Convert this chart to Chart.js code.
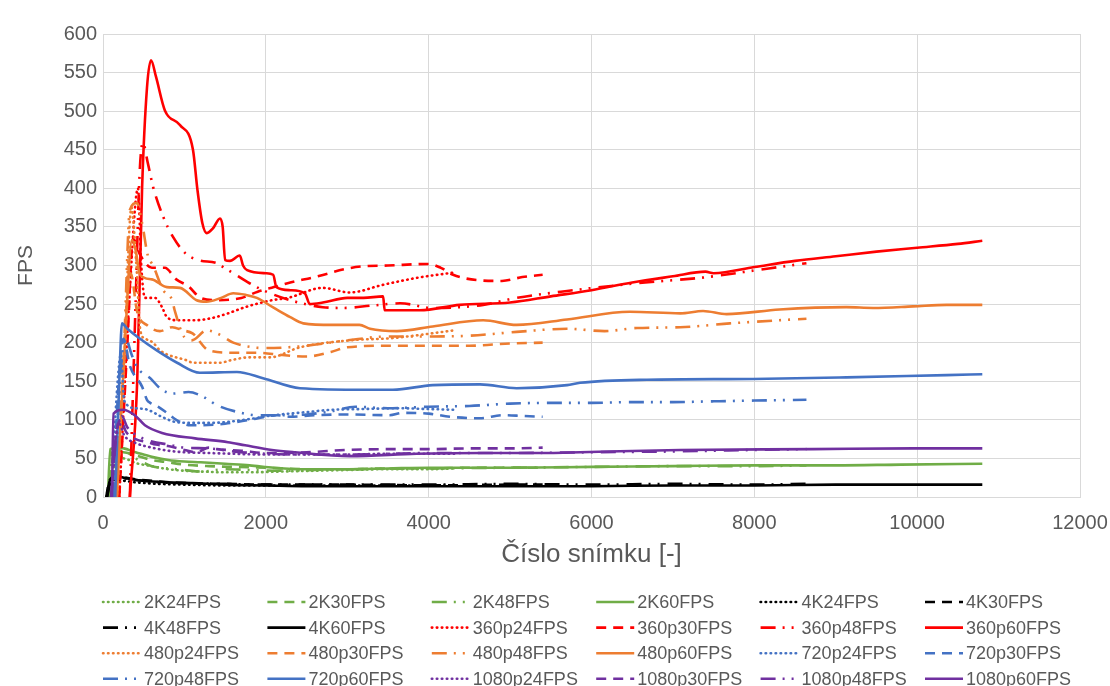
<!DOCTYPE html>
<html>
<head>
<meta charset="utf-8">
<script src="https://cdn.jsdelivr.net/npm/chart.js@4.4.1/dist/chart.umd.min.js"></script>
<style>
  body { margin: 0; background: #fff; }
  #wrap { width: 1110px; height: 686px; }
</style>
</head>
<body>
<div id="wrap"><canvas id="fpsChart" width="1110" height="686"></canvas></div>
<script>
// [frame, fps] pairs
const s2K24 = [[80,0],[150,45],[250,50],[400,44],[600,40],[800,36],[1000,34],[1200,33],[1500,32],[1800,32],[2200,33],[2600,34],[3000,35],[3500,36],[4000,36],[4320,37]];
const s2K30 = [[70,0],[130,55],[250,58],[400,54],[600,48],[800,45],[1000,42],[1300,40],[1600,39],[2000,38],[2500,36],[3000,36],[3500,37],[4000,37],[4500,38],[5000,38],[5400,38]];
const s2K48 = [[70,0],[120,60],[250,60],[400,50],[600,40],[800,37],[1000,35],[1200,33],[1500,36],[1800,35],[2200,34],[2600,35],[3000,36],[4000,37],[5000,38],[6000,39],[7000,40],[8000,40],[8640,41]];
const s2K60 = [[60,0],[90,62],[200,64],[400,58],[600,52],[800,48],[1000,46],[1200,45],[1500,43],[1800,41],[2100,38],[2500,36],[3000,36],[3500,37],[4000,38],[5000,38],[6000,39],[7000,40],[8000,41],[9000,41],[9800,42],[10800,43]];

const s4K24 = [[40,0],[70,15],[150,22],[400,19],[700,17],[1000,16],[1500,15],[2000,15],[3000,15],[4000,15],[4320,15]];
const s4K30 = [[40,0],[80,22],[180,26],[400,23],[700,20],[1000,18],[1500,17],[2000,16],[3000,16],[4000,15],[5000,16],[5400,16]];
const s4K48 = [[50,0],[90,18],[200,25],[400,22],[700,19],[1000,18],[1500,17],[2000,16],[3000,16],[4000,16],[5000,17],[6000,16],[7000,17],[8000,16],[8640,17]];
const s4K60 = [[50,0],[80,20],[150,27],[300,24],[500,21],[800,19],[1100,18],[1500,16],[2000,15],[2500,14],[3000,14],[4000,14],[5000,14],[6000,14],[7000,15],[8000,15],[9000,16],[10000,16],[10800,16]];

const s360p24 = [[200,0],[320,250],[430,400],[470,300],[516,258],[640,258],[725,246],[786,233],[920,229],[1130,229],[1340,232],[1535,238],[1745,246],[2075,255],[2270,258],[2700,271],[3030,265],[3440,275],[3855,284],[4320,291]];
const s360p30 = [[200,0],[300,200],[370,335],[450,315],[600,297],[760,297],[900,282],[1050,273],[1200,258],[1400,255],[1700,258],[1900,266],[2100,272],[2300,278],[2600,285],[3000,296],[3200,299],[3500,300],[4000,302],[4150,297],[4300,288],[4600,281],[4900,280],[5150,285],[5400,288]];
const s360p48 = [[330,0],[400,250],[450,420],[490,459],[550,433],[615,402],[740,363],[860,337],[1010,316],[1170,307],[1400,303],[1475,298],[1600,290],[1800,277],[1965,268],[2300,255],[2700,246],[2950,245],[3300,248],[3650,251],[4050,245],[4670,249],[5080,258],[5700,267],[6560,277],[7420,285],[8030,294],[8640,303]];
const s360p60 = [[330,0],[420,150],[480,400],[540,530],[590,566],[650,545],[760,501],[945,482],[1105,450],[1160,398],[1220,355],[1275,342],[1350,348],[1437,361],[1470,350],[1500,307],[1560,306],[1680,313],[1720,300],[1770,294],[2000,290],[2090,288],[2130,272],[2300,268],[2480,264],[2540,250],[2700,252],[3000,258],[3200,258],[3440,260],[3460,242],[3890,242],[4380,249],[5000,252],[5500,260],[6000,268],[6500,278],[7000,286],[7400,292],[7500,290],[8000,298],[8500,306],[9000,312],[9500,318],[10000,323],[10500,328],[10800,332]];

const s480p24 = [[150,0],[250,150],[350,375],[410,300],[460,215],[520,205],[615,200],[700,190],[1030,177],[1105,174],[1440,174],[1560,177],[1800,181],[2050,181],[2420,194],[3030,203],[3560,206],[4320,216]];
const s480p30 = [[170,0],[280,230],[340,290],[420,240],[550,222],[700,215],[850,220],[980,216],[1100,212],[1300,190],[1600,187],[1900,187],[2200,184],[2500,182],[2800,188],[3000,194],[3500,196],[4000,196],[4500,196],[5000,199],[5400,200]];
const s480p48 = [[160,0],[260,200],[330,372],[415,381],[480,355],[550,313],[615,300],[740,268],[850,255],[880,242],[1000,207],[1090,203],[1275,216],[1440,210],[1600,200],[1840,194],[2010,193],[2400,195],[3000,203],[3500,208],[4000,208],[4500,209],[5080,214],[5700,218],[6160,215],[6560,219],[7090,220],[7700,225],[8300,229],[8640,231]];
const s480p60 = [[170,0],[280,220],[355,333],[400,320],[455,288],[600,282],[785,272],[945,271],[1150,255],[1270,253],[1450,258],[1600,264],[1750,262],[1890,258],[2100,245],[2300,233],[2460,225],[2820,223],[3150,223],[3280,218],[3610,215],[4050,221],[4670,229],[5080,223],[5700,230],[6470,240],[7090,238],[7370,241],[7660,237],[8310,243],[9130,246],[9460,245],[9950,247],[10360,249],[10800,249]];

const s720p24 = [[100,0],[180,150],[220,185],[260,125],[400,115],[550,113],[700,105],[900,97],[1100,96],[1300,96],[1500,97],[1800,101],[2100,106],[2500,110],[2800,113],[3200,114],[3600,115],[4000,114],[4320,113]];
const s720p30 = [[120,0],[200,160],[250,205],[330,170],[480,143],[540,126],[580,122],[675,117],[785,109],[900,100],[1070,93],[1215,93],[1500,95],[1800,100],[2140,106],[2300,104],[2600,106],[3000,107],[3520,106],[3680,109],[4000,108],[4260,104],[4630,102],[4910,106],[5160,105],[5400,104]];
const s720p48 = [[130,0],[220,170],[280,205],[350,185],[420,168],[580,154],[700,141],[850,134],[1050,136],[1230,130],[1400,119],[1700,109],[1900,106],[2200,106],[2500,107],[2800,111],[3100,117],[3500,115],[4000,117],[4500,118],[5000,121],[5500,122],[6000,122],[6500,123],[7000,123],[7500,124],[8000,125],[8640,126]];
const s720p60 = [[150,0],[200,150],[233,225],[300,218],[430,207],[660,190],[910,174],[1190,161],[1645,162],[1965,154],[2420,141],[3240,139],[3560,139],[4050,145],[4630,146],[5080,141],[5700,145],[5860,148],[6680,152],[7980,153],[9130,155],[10360,158],[10800,159]];

const s1080p24 = [[100,0],[150,70],[200,95],[260,80],[400,70],[600,64],[800,60],[1000,58],[1300,57],[1600,56],[2000,55],[2500,55],[3000,55],[3500,56],[4000,56],[4320,56]];
const s1080p30 = [[100,0],[160,80],[220,100],[280,85],[400,75],[550,71],[650,68],[800,66],[1000,61],[1150,58],[1300,64],[1400,62],[1700,60],[2000,57],[2500,58],[3000,61],[3500,62],[4000,62],[4500,63],[5000,63],[5400,64]];
const s1080p48 = [[100,0],[170,85],[230,105],[300,90],[450,78],[600,72],[800,68],[1000,64],[1300,63],[1600,59],[2000,56],[2500,55],[3000,55],[3500,56],[4000,57],[5000,57],[6000,58],[7000,59],[8000,61],[8640,62]];
const s1080p60 = [[110,0],[130,108],[245,113],[390,106],[515,93],[725,83],[1130,76],[1535,71],[1745,67],[2075,61],[2360,58],[3030,53],[3850,56],[4670,57],[5490,57],[5860,58],[7090,61],[8720,62],[9950,63],[10800,63]];

const seriesNames = ['2K24FPS','2K30FPS','2K48FPS','2K60FPS','4K24FPS','4K30FPS','4K48FPS','4K60FPS',
  '360p24FPS','360p30FPS','360p48FPS','360p60FPS','480p24FPS','480p30FPS','480p48FPS','480p60FPS',
  '720p24FPS','720p30FPS','720p48FPS','720p60FPS','1080p24FPS','1080p30FPS','1080p48FPS','1080p60FPS'];
const seriesData = [s2K24, s2K30, s2K48, s2K60, s4K24, s4K30, s4K48, s4K60,
  s360p24, s360p30, s360p48, s360p60, s480p24, s480p30, s480p48, s480p60,
  s720p24, s720p30, s720p48, s720p60, s1080p24, s1080p30, s1080p48, s1080p60];

const resColors = ['#70ad47', '#000000', '#ff0000', '#ed7d31', '#4472c4', '#7030a0'];
const fpsDash = [[0.5, 4.5], [10, 7], [15, 7, 2, 7, 2, 8], []];
const fpsCap = ['round', 'butt', 'butt', 'butt'];

const FONT = '"Liberation Sans", Arial, sans-serif';
const TXT = '#595959';

const datasets = seriesNames.map((name, i) => ({
  label: name,
  data: seriesData[i].map(p => ({ x: p[0], y: p[1] })),
  borderColor: resColors[Math.floor(i / 4)],
  borderWidth: 2.6,
  borderDash: fpsDash[i % 4],
  borderCapStyle: fpsCap[i % 4],
  borderJoinStyle: 'round',
  pointRadius: 0,
  fill: false,
  cubicInterpolationMode: 'monotone',
  order: seriesNames.length - i
}));

// legend in a fixed 6-column grid, like the original
const gridLegend = {
  id: 'gridLegend',
  afterDraw(chart) {
    const ctx = chart.ctx;
    chart.data.datasets.forEach((ds, i) => {
      const x = 103 + (i % 6) * 164.4;
      const y = 602 + Math.floor(i / 6) * 25.6;
      ctx.save();
      ctx.strokeStyle = ds.borderColor;
      ctx.lineWidth = ds.borderWidth;
      ctx.lineCap = ds.borderCapStyle;
      ctx.setLineDash(ds.borderDash);
      ctx.beginPath();
      ctx.moveTo(x, y);
      ctx.lineTo(x + 38, y);
      ctx.stroke();
      ctx.setLineDash([]);
      ctx.fillStyle = TXT;
      ctx.font = '18px ' + FONT;
      ctx.textBaseline = 'middle';
      ctx.fillText(ds.label, x + 41, y + 1);
      ctx.restore();
    });
  }
};

new Chart(document.getElementById('fpsChart').getContext('2d'), {
  type: 'line',
  data: { datasets: datasets },
  options: {
    responsive: false,
    animation: false,
    layout: { padding: { top: 34, right: 30, bottom: 116, left: 0 } },
    plugins: {
      legend: { display: false },
      tooltip: { enabled: false }
    },
    scales: {
      x: {
        type: 'linear',
        min: 0,
        max: 12000,
        ticks: { stepSize: 2000, color: TXT, font: { family: FONT, size: 20 }, padding: 14, maxRotation: 0,
                 callback: v => String(v) },
        grid: { color: '#d9d9d9', lineWidth: 1, drawTicks: false },
        border: { color: '#d9d9d9' },
        title: { display: true, text: 'Číslo snímku [-]', color: TXT, font: { family: FONT, size: 26 }, padding: 0 },
        afterFit(scale) { scale.height = 73; scale.paddingRight = 0; scale.paddingLeft = 0; }
      },
      y: {
        min: 0,
        max: 600,
        ticks: { stepSize: 50, color: TXT, font: { family: FONT, size: 20 }, padding: 6 },
        grid: { color: '#d9d9d9', lineWidth: 1, drawTicks: false },
        border: { color: '#d9d9d9' },
        title: { display: true, text: 'FPS', color: TXT, font: { family: FONT, size: 21 }, padding: { top: 14, bottom: 0 } },
        afterFit(scale) { scale.width = 103; scale.paddingTop = 0; scale.paddingBottom = 0; }
      }
    }
  },
  plugins: [gridLegend]
});
</script>
</body>
</html>
